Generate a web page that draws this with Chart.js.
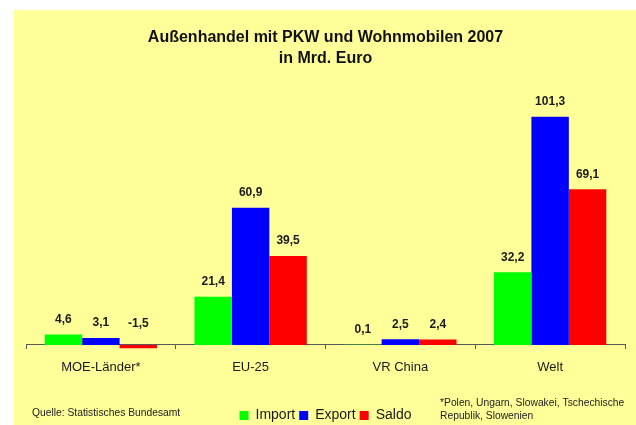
<!DOCTYPE html>
<html lang="de">
<head>
<meta charset="utf-8">
<title>Außenhandel mit PKW und Wohnmobilen 2007</title>
<script src="https://cdn.jsdelivr.net/npm/chart.js@4/dist/chart.umd.min.js"></script>
<style>
  html, body { margin: 0; padding: 0; background: #fff; overflow: hidden; }
  #box {
    position: absolute;
    left: 14px;
    top: 10px;
    width: 622px;
    height: 415px;
    background: #ffff99;
  }
</style>
</head>
<body>
<div id="box"><canvas id="chart"></canvas></div>
<script>
const categories = ["MOE-Länder*", "EU-25", "VR China", "Welt"];
const importValues = [4.6, 21.4, 0.1, 32.2];
const exportValues = [3.1, 60.9, 2.5, 101.3];
const saldoValues = [-1.5, 39.5, 2.4, 69.1];
const titleLines = ["Außenhandel mit PKW und Wohnmobilen 2007", "in Mrd. Euro"];
const sourceText = "Quelle: Statistisches Bundesamt";
const noteLines = ["*Polen, Ungarn, Slowakei, Tschechische", "Republik, Slowenien"];

const FONT = "'Liberation Sans', Arial, Helvetica, sans-serif";

function fmt(v) {
  return v.toFixed(1).replace(".", ",");
}

// value labels above each bar (negative ones sit above the zero line)
const valueLabels = {
  id: "valueLabels",
  afterDatasetsDraw(chart) {
    const ctx = chart.ctx;
    ctx.save();
    ctx.font = "bold 12px " + FONT;
    ctx.fillStyle = "#1a1a1a";
    ctx.textAlign = "center";
    ctx.textBaseline = "middle";
    chart.data.datasets.forEach((ds, i) => {
      chart.getDatasetMeta(i).data.forEach((bar, j) => {
        const v = ds.data[j];
        const top = Math.min(bar.y, bar.base);
        ctx.fillText(fmt(v), bar.x, top - 15 - (v < 0 ? 6 : 0));
      });
    });
    ctx.restore();
  }
};

const footnotes = {
  id: "footnotes",
  afterDraw(chart) {
    const ctx = chart.ctx;
    ctx.save();
    ctx.font = "10.3px " + FONT;
    ctx.fillStyle = "#222";
    ctx.textAlign = "left";
    ctx.textBaseline = "middle";
    ctx.fillText(sourceText, 18, 403);
    noteLines.forEach((line, i) => ctx.fillText(line, 426, 393 + i * 13.5));
    ctx.restore();
  }
};

new Chart(document.getElementById("chart"), {
  type: "bar",
  data: {
    labels: categories,
    datasets: [
      { label: "Import", data: importValues, backgroundColor: "#00ff00" },
      { label: "Export", data: exportValues, backgroundColor: "#0000ff" },
      { label: "Saldo", data: saldoValues, backgroundColor: "#ff0000" }
    ]
  },
  options: {
    responsive: true,
    maintainAspectRatio: false,
    animation: false,
    categoryPercentage: 0.75,
    barPercentage: 1,
    // legend keeps 10px of empty space under its row, let it hang off the canvas
    layout: { padding: { left: 12, right: 11, top: 0, bottom: -7.4 } },
    plugins: {
      title: {
        display: true,
        text: titleLines,
        color: "#111",
        font: { family: FONT, size: 16, weight: "bold", lineHeight: 1.3125 },
        padding: { top: 17, bottom: 5.5 }
      },
      legend: {
        position: "bottom",
        // empty legend title used as a spacer above the legend row
        title: { display: true, text: "", font: { size: 12, lineHeight: 1.2 } },
        labels: {
          color: "#1a1a1a",
          font: { family: FONT, size: 14 },
          boxWidth: 9,
          boxHeight: 9,
          padding: 4
        }
      },
      tooltip: { enabled: false }
    },
    scales: {
      x: {
        position: { y: 0 },
        border: { display: true, color: "#595959", width: 1 },
        grid: { display: true, drawOnChartArea: false, drawTicks: true, tickLength: 4, color: "#595959" },
        ticks: { color: "#1a1a1a", font: { family: FONT, size: 13 }, padding: 11 }
      },
      y: {
        display: false,
        min: -20,
        max: 120
      }
    }
  },
  plugins: [valueLabels, footnotes]
});
</script>
</body>
</html>
